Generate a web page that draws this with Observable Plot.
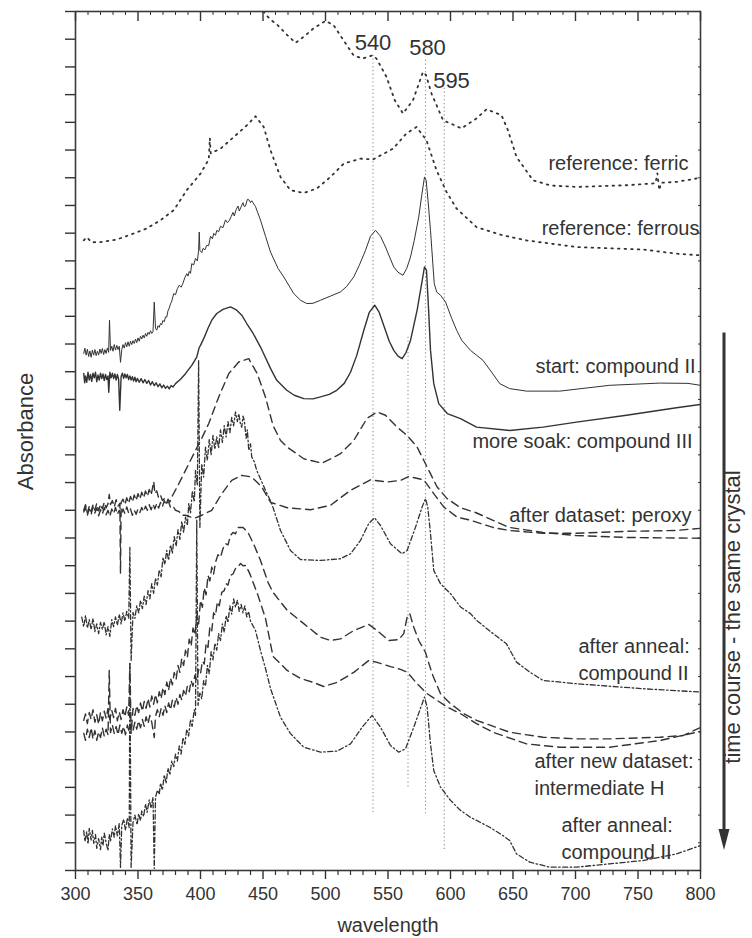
<!DOCTYPE html>
<html><head><meta charset="utf-8">
<script src="https://cdn.jsdelivr.net/npm/d3@7"></script>
<script src="https://cdn.jsdelivr.net/npm/@observablehq/plot@0.6"></script>
<style>
html,body{margin:0;padding:0;background:#fff;}
#chart{width:752px;height:938px;}
</style></head>
<body><div id="chart"></div>
<script>
// ---- data: [wavelength (nm), absorbance (arbitrary, offset) ] ----
const ferric = [[440,32.10],[446,31.41],[450.4,30.99],[455,30.75],[461.6,30.51],[469.6,30.14],[476,29.87],[482.4,30.08],[490.4,30.39],[500,30.66],[506.4,30.51],[514.4,29.96],[522.4,29.42],[529.6,29.30],[537.6,29.42],[540.8,29.30],[548.8,28.64],[555.4,27.80],[562,27.32],[570,27.80],[578,28.82],[580.5,28.70],[584.8,28.04],[594,27.08],[608.8,26.78],[620.8,27.14],[628.8,27.47],[640.8,27.26],[646,26.71],[652.8,25.75],[666,24.91],[680,24.72],[700.8,24.67],[740.8,24.73],[764,24.80],[765.5,25.16],[767,24.55],[768.5,24.82],[780.8,24.85],[799,24.99],[800,25.00]];

const ferrous = [[306.6,22.74],[309,22.85],[313,22.67],[320,22.68],[333,22.77],[346.6,22.99],[357,23.17],[368,23.47],[378.6,23.83],[389,24.55],[400,25.15],[406.6,25.66],[407.5,26.43],[408.2,25.88],[416,26.05],[426.6,26.47],[437.3,26.90],[444,27.22],[450.6,26.83],[456,25.99],[464,25.03],[472,24.55],[482.6,24.45],[493,24.61],[504,25.03],[514.6,25.51],[528,25.69],[538,25.66],[554,26.05],[564.8,26.60],[572.8,26.83],[580.8,26.35],[588.8,25.27],[596.8,24.49],[604.8,23.89],[620.8,23.22],[642,22.92],[660.8,22.74],[700.8,22.50],[754,22.41],[780.8,22.26],[800,22.20]];

const startCII = [[306.6,18.66],[307.5,18.85],[308.5,18.60],[309.5,18.81],[310.5,18.55],[311.5,18.75],[312.5,18.52],[313.5,18.78],[314.5,18.60],[315.5,18.80],[316.5,18.58],[317.5,18.74],[318.5,18.60],[319.5,18.82],[320.5,18.66],[321.5,18.84],[322.5,18.62],[323.5,18.80],[324.5,18.66],[325.5,18.86],[326.5,18.70],[327.2,19.86],[328,18.77],[329,18.92],[330,18.74],[331,18.98],[332,18.78],[333,18.95],[334,18.80],[335,18.92],[336,18.34],[337,18.80],[338,18.98],[339,18.85],[340,19.05],[341,18.90],[342,19.08],[343,18.92],[344,19.10],[345,18.98],[346,19.12],[347,19.02],[348,19.18],[349,19.05],[350,19.22],[351,19.10],[352,19.28],[353,19.18],[354,19.32],[355,19.22],[356,19.38],[357,19.28],[358,19.42],[359,19.35],[360,19.48],[361,19.38],[362,19.45],[363,20.51],[364,19.57],[365,19.50],[366,19.66],[367,19.60],[368,19.74],[369,19.70],[370,19.85],[371,19.80],[372,19.98],[373,19.97],[374,20.20],[375,20.30],[376,20.45],[377,20.55],[378.6,20.82],[380,20.78],[381.5,21.00],[383,21.12],[384.5,21.05],[386,21.20],[387.5,21.40],[389,21.54],[390,21.45],[391,21.62],[392,21.55],[393,21.90],[394.5,21.85],[396,22.09],[397.5,22.00],[398.5,22.38],[399,23.04],[399.5,22.38],[401,22.30],[402,22.45],[403.5,22.40],[405,22.56],[406.5,22.55],[408,22.89],[409.5,22.80],[410.6,22.99],[412,22.92],[413,23.10],[414.5,23.05],[416,23.25],[418,23.20],[420,23.48],[421.5,23.38],[423,23.45],[424.5,23.60],[426,23.75],[427,23.62],[428.5,23.85],[430,23.98],[431,23.80],[432.5,23.95],[434,24.10],[435,23.96],[436,23.98],[437.5,24.22],[438.6,24.21],[440,24.10],[441,24.17],[444,23.96],[448,23.47],[452,22.89],[456,22.32],[462,21.73],[466.6,21.42],[474.6,20.82],[480,20.58],[485,20.46],[490,20.47],[496,20.58],[504,20.73],[512,20.88],[517,21.08],[522.6,21.42],[527,21.84],[532,22.38],[536,22.89],[540,23.10],[544,22.89],[548,22.50],[554.6,21.78],[558,21.59],[562,21.48],[565,21.73],[568,22.14],[571,22.74],[574.6,23.59],[577,24.37],[579.2,25.03],[580.5,24.91],[582,24.19],[584,23.10],[587,21.18],[589,20.87],[592,20.76],[596,20.52],[601,19.92],[605,19.49],[609,19.13],[616,18.77],[621,18.59],[626,18.41],[632.8,17.99],[639.4,17.57],[647.4,17.39],[660.8,17.30],[687.4,17.30],[727.4,17.51],[767.4,17.59],[790,17.58],[800,17.51]];

const moreSoakCIII = [[306.6,17.94],[307.3,17.60],[308,17.85],[309,17.62],[310,17.98],[311,17.70],[312,17.90],[313,17.65],[314,17.95],[315,17.78],[316,17.98],[317,17.64],[318,17.88],[319,17.70],[320,17.95],[321,17.75],[322,17.92],[323,17.68],[324,17.90],[325,17.72],[326,17.85],[326.6,17.26],[327.5,17.98],[328.5,17.78],[329.5,17.95],[330.5,17.75],[331.5,17.92],[332.5,17.70],[333.5,17.90],[334.5,17.72],[335.4,16.61],[336.5,17.83],[337.5,17.95],[338.5,17.76],[339.5,17.92],[340.5,17.78],[341.5,17.90],[342.5,17.72],[343.5,17.85],[344.5,17.70],[345.5,17.82],[346.5,17.66],[347.5,17.80],[348.5,17.64],[349.5,17.76],[351,17.62],[352.5,17.75],[354,17.60],[355.5,17.72],[357,17.58],[358.5,17.68],[360,17.52],[361.5,17.64],[363,17.50],[364.5,17.60],[366,17.46],[367.5,17.56],[369,17.42],[370.5,17.52],[372,17.40],[373.5,17.48],[375,17.38],[376.5,17.50],[378,17.45],[380,17.57],[384,17.73],[388,17.93],[393,18.23],[397,18.53],[399,18.88],[400,18.95],[403,19.24],[406,19.57],[409,19.86],[413,20.10],[418,20.25],[424,20.34],[429,20.22],[433,20.04],[437,19.74],[442,19.39],[448,18.89],[456,18.12],[461,17.69],[469,17.33],[475,17.15],[482.6,17.03],[490,17.02],[496,17.09],[503,17.18],[509,17.33],[515,17.58],[520,17.98],[525,18.59],[530.6,19.49],[535,20.14],[539.4,20.40],[543,20.14],[548,19.49],[551,19.10],[554.6,18.77],[558,18.56],[561.3,18.47],[564.5,18.70],[568,19.13],[573.3,20.22],[576,20.94],[579.2,21.78],[580.8,21.66],[582.5,20.22],[584,18.77],[586.6,17.57],[590.6,16.85],[597.4,16.49],[608,16.31],[620.8,16.00],[647.4,15.88],[674,16.00],[700.8,16.18],[740.8,16.43],[780.8,16.70],[800,16.82]];

const peroxyA = [[306.6,12.94],[308,13.10],[309.5,12.82],[311,13.05],[312.5,12.85],[314,13.12],[315.5,12.90],[317,13.08],[318.5,12.80],[320,13.02],[321.5,12.86],[323,13.10],[324.5,12.84],[326,13.00],[327.5,12.78],[329,13.05],[330.5,12.88],[332,13.10],[333.5,12.85],[335,13.00],[336.5,12.80],[338,13.05],[339.5,12.88],[341,13.12],[342.5,12.90],[344,13.05],[345.5,12.82],[347,13.00],[348.5,12.86],[350,13.05],[351.5,12.92],[353,13.10],[354.5,12.95],[356,13.15],[357.5,13.00],[359,13.20],[360.5,13.02],[362,13.22],[363.5,13.05],[365,13.25],[366.5,13.08],[368,13.28],[369.5,13.12],[371,13.35],[372.5,13.20],[374,13.40],[375.5,13.30],[377,13.48],[382,13.90],[388,14.44],[396,15.16],[401,15.60],[406.6,16.13],[414.6,17.09],[422.6,17.93],[430.6,18.35],[438.6,18.47],[445.4,17.93],[452,17.08],[458,16.06],[464,15.52],[469.3,15.28],[482.6,14.86],[497.3,14.70],[512,15.04],[522.6,15.52],[533.3,16.32],[541.3,16.55],[548,16.43],[557.3,16.00],[565.3,15.70],[573.3,15.28],[581.3,14.56],[589.3,13.84],[597.3,13.42],[608,13.09],[620,12.92],[629,12.74],[647,12.38],[674,12.20],[700,12.09],[740,12.02],[800,11.99]];

const peroxyB = [[306.6,13.00],[308,13.20],[309.5,12.90],[311,13.15],[312.5,12.95],[314,13.20],[315.5,13.00],[317,13.25],[318.5,12.98],[320,13.22],[321.5,13.05],[323,13.30],[324.5,13.08],[326,13.24],[327,13.57],[328,13.21],[329.5,13.35],[331,13.12],[332.5,13.38],[334,13.15],[335.5,13.25],[336,10.72],[336.5,13.28],[338,13.40],[339.5,13.20],[341,13.45],[342.5,13.25],[344,13.50],[345.5,13.30],[347,13.55],[348.5,13.35],[350,13.60],[351.5,13.40],[353,13.65],[354.5,13.45],[356,13.70],[357.5,13.50],[359,13.75],[360.5,13.55],[362.6,14.04],[363.5,13.60],[365,13.70],[366.5,13.45],[368,13.55],[369.5,13.35],[371,13.42],[372.5,13.25],[374.6,13.30],[376,13.10],[378,13.15],[380,13.00],[383,12.95],[385,12.82],[388,12.82],[395,12.71],[401,12.82],[409,13.00],[417,13.60],[425,14.08],[433,14.26],[441,14.20],[449,13.84],[456,13.29],[469.3,13.09],[488,13.02],[504,13.18],[520,13.72],[536,14.10],[549.3,14.02],[560,14.08],[566.7,14.22],[578.6,14.10],[586.6,13.60],[594.6,13.12],[605.3,12.75],[616,12.64],[634,12.38],[647,12.27],[674,12.17],[700,12.17],[740,12.24],[780,12.27],[800,12.35]];

const annealCII = [[305,9.14],[306.5,8.80],[308,9.20],[309.5,8.75],[311,9.05],[312.5,8.70],[314,9.10],[315.5,8.62],[317,8.90],[318.5,8.55],[320,8.95],[321.5,8.70],[323,8.98],[324.5,8.50],[326,8.80],[327.5,8.45],[329,9.05],[330.5,8.80],[332,9.15],[333.5,8.85],[335,9.25],[336.5,8.90],[338,9.30],[339.5,9.00],[341,9.35],[342.6,9.10],[343.5,11.66],[344.5,7.58],[346,9.31],[347.5,9.10],[349,9.55],[350.6,9.30],[352,9.75],[353.5,9.45],[355,9.90],[356.5,9.60],[358,10.10],[359.5,9.80],[361,10.35],[362.5,10.00],[364,10.55],[365.5,10.30],[367,10.85],[368.5,10.60],[370,11.30],[371.5,11.05],[373,11.55],[374.5,11.20],[376,11.75],[377.5,11.45],[379,12.05],[380.5,11.70],[382,12.30],[383.5,11.95],[385,12.60],[386.5,12.20],[388,12.75],[389.5,12.45],[390.6,13.24],[392,12.90],[393.5,13.70],[395,13.30],[396,14.44],[397.5,13.90],[398.5,18.41],[399.5,12.38],[401,14.68],[402.5,14.20],[404,15.28],[405.5,14.80],[407,15.55],[408.5,15.00],[410,15.70],[411.5,15.20],[413,15.65],[414.5,15.25],[416,15.90],[417.5,15.45],[419,16.05],[420.5,15.65],[422,16.20],[423.5,15.80],[425,16.35],[426.5,16.05],[428,16.55],[429.5,16.20],[430.6,16.49],[432,16.10],[433,16.00],[434,16.40],[435,16.25],[436.5,15.60],[437.5,15.90],[438.6,15.16],[440,15.40],[441,14.92],[443,14.75],[445,14.44],[452,13.72],[457,13.24],[464,12.27],[472,11.55],[480,11.22],[496,11.19],[512,11.25],[520,11.43],[528,11.91],[534.6,12.52],[539.2,12.73],[544,12.45],[552,11.79],[561.3,11.43],[565.3,11.55],[572,12.39],[577.3,13.12],[580,13.42],[581.8,13.12],[584,12.16],[586.6,10.83],[592,10.35],[600,9.99],[608,9.51],[616,9.27],[620.8,9.03],[634,8.55],[644.8,8.18],[652.8,7.52],[663.4,7.16],[674,6.86],[700.8,6.74],[754,6.56],[800,6.44]];

const newDatasetA = [[306.6,5.42],[308,5.65],[309.5,5.30],[311,5.70],[312.5,5.45],[314,5.80],[315.5,5.35],[317,5.62],[318.5,5.28],[320,5.70],[321.5,5.40],[323,5.75],[324.5,5.50],[326,5.85],[327.5,5.45],[329,5.78],[330.5,5.52],[332,5.85],[333.5,5.40],[335,5.72],[336.5,5.45],[338,5.80],[339.5,5.55],[341,5.90],[342.5,5.60],[343.5,7.47],[344.5,4.95],[346,5.85],[347.5,5.60],[349,5.95],[350.5,5.70],[352,6.05],[353.5,5.75],[355,6.10],[356.5,5.85],[358,6.20],[359.5,5.90],[361,6.30],[362.5,6.00],[364,6.35],[365.5,6.05],[367,6.45],[368.5,6.20],[370,6.60],[371.5,6.35],[373,6.80],[374.5,6.50],[376,6.95],[377.5,6.70],[379,7.15],[380.5,6.90],[382,7.40],[383.5,7.15],[385,7.65],[386.5,7.40],[388,7.95],[389.5,7.70],[391,8.35],[392.5,8.10],[394,8.75],[395.5,8.50],[397,9.20],[398.5,8.90],[400,9.75],[401.5,9.50],[403,10.20],[404.5,9.95],[406,10.65],[407.5,10.45],[409,10.95],[410.5,10.70],[412,11.12],[414,11.40],[416,11.30],[418,11.62],[420,11.80],[422,11.75],[424,12.09],[426,12.20],[428,12.15],[430,12.38],[434,12.38],[438,12.20],[443,11.73],[448,11.19],[454,10.40],[458,10.04],[469.3,9.39],[482.6,8.91],[496,8.42],[504,8.30],[512,8.36],[522.6,8.66],[534.6,8.88],[541.3,8.66],[550.6,8.30],[558.6,8.33],[562.6,8.55],[565.3,9.14],[567.4,9.27],[570.6,8.78],[574.6,8.30],[580,7.87],[585.3,7.10],[592,6.38],[600,6.02],[610.6,5.66],[620.8,5.42],[647.4,4.99],[674,4.81],[700.8,4.75],[727.4,4.75],[767.4,4.81],[786,4.87],[800,5.16]];

const newDatasetB = [[306.6,4.95],[308,4.70],[309.5,5.10],[311,4.80],[312.5,5.15],[314,4.75],[315.5,5.05],[317,4.70],[318.5,5.00],[320,4.80],[321.5,5.15],[323,4.85],[324.5,5.10],[326,4.90],[327,7.22],[328,4.98],[329.5,5.25],[331,4.95],[332.5,5.20],[334,4.90],[335.5,5.25],[337,4.95],[338.5,5.20],[340,4.90],[341.5,5.25],[343,5.00],[344.5,5.30],[346,5.05],[347.5,5.35],[349,5.10],[350.5,5.40],[352,5.15],[353.5,5.45],[355,5.20],[356.5,5.55],[358,5.30],[359.5,5.60],[361,5.35],[363,4.80],[364,5.56],[365.5,5.80],[367,5.55],[368.5,5.85],[370,5.60],[371.5,5.95],[373,5.70],[374.5,6.05],[376,5.80],[377.5,6.15],[379,5.90],[380.5,6.25],[382,6.00],[383.5,6.35],[385,6.15],[386.5,6.50],[388,6.30],[389.5,6.65],[391,6.45],[392.5,6.85],[394,6.65],[395.5,7.05],[397,6.85],[398.5,7.25],[400,7.10],[401.5,7.55],[403,7.45],[404.5,8.20],[406,8.05],[407.5,8.80],[409,8.65],[410.5,9.30],[412,9.20],[413.5,9.70],[415,9.55],[417,10.04],[419,10.10],[420.5,10.35],[422,10.30],[424,10.65],[426,10.70],[428,10.90],[430,10.95],[432,11.08],[434,11.00],[436,11.01],[438,10.85],[440,10.65],[446,9.93],[452,9.10],[458,7.73],[469.3,7.22],[480,6.93],[490,6.79],[498.6,6.64],[509.3,6.79],[522.6,7.15],[534.6,7.58],[541.3,7.51],[552,7.36],[560,7.26],[565.3,7.16],[573.3,6.74],[581.3,6.38],[589.3,6.14],[597.3,5.90],[608,5.66],[620.8,5.30],[634,4.99],[660.8,4.57],[687.4,4.45],[727.4,4.45],[767.4,4.69],[800,5.02]];

const annealCII2 = [[306.6,1.44],[307.5,1.05],[309,1.40],[310,0.95],[311,1.52],[312.5,1.10],[313.5,1.45],[314.6,0.98],[316,1.30],[317,0.80],[318.5,1.15],[320,0.75],[321,1.20],[322,0.90],[323,1.35],[324.5,1.00],[326,0.72],[327,1.30],[328,1.05],[329.5,1.50],[331,1.20],[332,1.62],[333.5,1.25],[335,1.70],[336,0.11],[337,1.62],[338.6,1.85],[340,1.45],[341.5,1.90],[343,1.55],[343.5,7.47],[344.5,0.11],[346,1.73],[347.5,2.00],[349.3,1.65],[350.5,2.05],[352,1.80],[353,2.15],[354.5,1.95],[356,2.40],[357.3,2.10],[359,2.55],[360.5,2.25],[362,2.65],[363,0.07],[364,2.64],[365.5,2.90],[367,2.75],[368,3.15],[369.5,2.90],[371,3.45],[372.5,3.15],[374,3.70],[375.5,3.45],[377,3.95],[378.6,3.75],[380,4.20],[381.5,3.95],[383,4.50],[384.5,4.20],[386,4.80],[387.5,4.55],[389,5.10],[390.5,4.85],[392,5.45],[393.3,5.20],[395,5.80],[396,5.60],[397,12.64],[398,5.96],[399.5,6.40],[401,6.20],[402.5,6.85],[404,6.65],[405.5,7.40],[407,7.10],[408.5,7.90],[410,7.60],[411.5,8.20],[413,7.95],[414.5,8.55],[416,8.30],[417.5,8.90],[419,8.60],[420.5,9.20],[422,8.95],[423.5,9.55],[425,9.25],[426.5,9.80],[428,9.50],[429.5,9.75],[431,9.35],[432.5,9.60],[434,9.30],[435.5,9.55],[437,9.15],[438.5,9.35],[440,9.00],[444,8.66],[448,7.94],[452,7.29],[456,6.57],[464,5.53],[472,4.94],[482.6,4.45],[496,4.27],[509.3,4.31],[520,4.57],[529.3,5.17],[537.3,5.60],[544,5.17],[552,4.51],[558.6,4.27],[564,4.39],[570.6,5.17],[577.3,6.02],[579.2,6.26],[581.3,5.90],[584,4.57],[586.6,3.61],[592,3.01],[600,2.53],[608,2.17],[616,1.92],[631.4,1.56],[642,1.26],[647.4,1.08],[652.8,0.60],[663.4,0.30],[679.4,0.12],[700.8,0.12],[727.4,0.24],[754,0.36],[780.8,0.60],[800,0.90]];

// reference wavelengths (dotted guide lines) with their vertical extents
const guideNm     = [538, 566, 580, 595];
const guideTop    = [29.42, 19.24, 29.24, 28.23];
const guideBottom = [2.09, 3.00, 1.99, 0.72];

const peakLabels = ["540", "580", "595"];
const xTicks = d3.range(300, 801, 50);
const xMinorTicks = d3.range(300, 801, 10).filter(v => v % 50 !== 0);
const yTicks = d3.range(0, 32, 1);

// ---- styles / layout (separate from data) ----
const ink = "#333";
const DOT = "1.6 5", DASH = "8 5", DASHDOT = "5 2.5 1.5 2.5";
const series = [
  {data: ferric, dash: DOT, w: 1.8},
  {data: ferrous, dash: DOT, w: 1.8},
  {data: startCII, dash: null, w: 1},
  {data: moreSoakCIII, dash: null, w: 1.4},
  {data: peroxyA, dash: DASH, w: 1.4},
  {data: peroxyB, dash: DASH, w: 1.4},
  {data: annealCII, dash: DASHDOT, w: 1.3},
  {data: newDatasetA, dash: DASH, w: 1.4},
  {data: newDatasetB, dash: DASH, w: 1.4},
  {data: annealCII2, dash: DASHDOT, w: 1.3}
];

const guides = guideNm.map((nm, i) => ({nm, top: guideTop[i], bottom: guideBottom[i]}));
const peakLabelRows = [
  {text: peakLabels[0], x: 538, y: 29.60},
  {text: peakLabels[1], x: 581.6, y: 29.42},
  {text: peakLabels[2], x: 600.8, y: 28.23}
];
const endLabels = [
  {text: "reference: ferric", x: 790.4, y: 25.27},
  {text: "reference: ferrous", x: 799.2, y: 22.92},
  {text: "start: compound II", x: 796, y: 17.94},
  {text: "more soak: compound III", x: 793.6, y: 15.23},
  {text: "after dataset: peroxy", x: 792.8, y: 12.56}
];
const startLabels = [
  {text: "after anneal:\ncompound II", x: 702.4, y: 6.86},
  {text: "after new dataset:\nintermediate H", x: 667.2, y: 2.71},
  {text: "after anneal:\ncompound II", x: 688.8, y: 0.43}
];

const timeArrow = (index, scales, values, dims) => {
  const x = dims.width - dims.marginRight + 24;
  const y1 = scales.y(19.4), y2 = scales.y(0.72);
  const g = d3.create("svg:g");
  g.append("line").attr("x1", x).attr("x2", x).attr("y1", y1).attr("y2", y2 - 16)
    .attr("stroke", ink).attr("stroke-width", 3);
  g.append("path").attr("d", `M${x - 5.5},${y2 - 21}L${x + 5.5},${y2 - 21}L${x},${y2}Z`).attr("fill", ink);
  return g.node();
};

const chart = Plot.plot({
  width: 752, height: 938,
  marginLeft: 75, marginRight: 52, marginTop: 11, marginBottom: 68,
  x: {domain: [300, 800]},
  y: {domain: [0, 31]},
  style: {fontFamily: "'Liberation Sans', Arial, sans-serif", color: ink, background: "#fff", overflow: "visible"},
  marks: [
    Plot.ruleX(guides, {x: "nm", y1: "top", y2: "bottom", stroke: "#9c8888", strokeWidth: 1.1, strokeDasharray: "1.2 2.6"}),
    ...series.map(s => Plot.line(s.data, {x: d => d[0], y: d => d[1], stroke: ink, strokeWidth: s.w, strokeDasharray: s.dash, clip: true})),
    Plot.text(peakLabelRows, {x: "x", y: "y", text: "text", textAnchor: "middle", lineAnchor: "bottom", fontSize: 22, fill: ink}),
    Plot.text(endLabels, {x: "x", y: "y", text: "text", textAnchor: "end", lineAnchor: "bottom", fontSize: 20, fill: ink}),
    Plot.text(startLabels, {x: "x", y: "y", text: "text", textAnchor: "start", lineAnchor: "bottom", lineHeight: 1.35, fontSize: 20, fill: ink}),
    Plot.frame({stroke: "#3a3a3a", strokeWidth: 1.6}),
    Plot.axisX({anchor: "bottom", ticks: xTicks, tickSize: 9, tickPadding: 8, fontSize: 18, tickFormat: d => d, label: null, stroke: ink, strokeWidth: 1.4, fill: ink}),
    Plot.axisX({anchor: "bottom", ticks: xMinorTicks, tickSize: 5, fill: null, label: null, stroke: ink, strokeWidth: 1.2}),
    Plot.axisX({anchor: "top", ticks: xTicks, tickSize: -9, fill: null, label: null, stroke: ink, strokeWidth: 1.4}),
    Plot.axisX({anchor: "top", ticks: xMinorTicks, tickSize: -3, fill: null, label: null, stroke: ink, strokeWidth: 1}),
    Plot.axisY({anchor: "left", ticks: yTicks, tickSize: 10, fill: null, label: null, stroke: ink, strokeWidth: 1.4}),
    Plot.axisY({anchor: "right", ticks: yTicks, tickSize: -3, fill: null, label: null, stroke: ink, strokeWidth: 1}),
    Plot.text(["wavelength"], {frameAnchor: "bottom", dy: 61, lineAnchor: "bottom", textAnchor: "middle", fontSize: 20, fill: ink}),
    Plot.text(["Absorbance"], {frameAnchor: "left", rotate: -90, dx: -43, dy: -9.5, lineAnchor: "bottom", textAnchor: "middle", fontSize: 22, fill: ink}),
    Plot.text(["time course - the same crystal"], {frameAnchor: "right", rotate: -90, dx: 39, dy: 176, lineAnchor: "bottom", textAnchor: "middle", fontSize: 22, fill: ink}),
    timeArrow
  ]
});
document.getElementById("chart").appendChild(chart);
</script></body></html>
